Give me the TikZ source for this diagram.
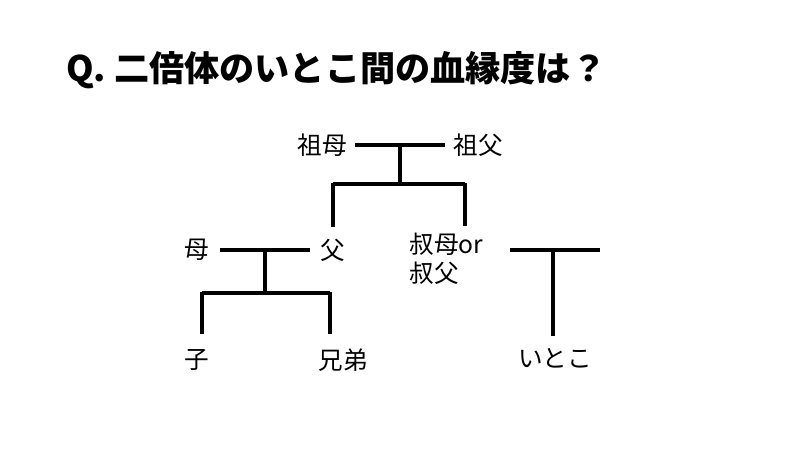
\documentclass[tikz,border=0pt]{standalone}
\usepackage{fontspec}
\setmainfont{Noto Sans CJK JP}
\usetikzlibrary{positioning}
\tikzset{
  member/.style={font=\fontsize{21}{24}\selectfont, inner sep=1pt},
  bond/.style={line width=2.6pt}
}
\begin{document}
\begin{tikzpicture}[x=0.03cm,y=-0.03cm]
\useasboundingbox (0,0) rectangle (800,450);
\node[anchor=west,font=\fontsize{30}{34}\bfseries\selectfont] (title) at (62,70) {Q. 二倍体のいとこ間の血縁度は？};

%%%grandparents
\node[member] (gm) at (322,145) {祖母};
\node[member] (gf) at (478,145) {祖父};
\coordinate (gl) at (355,145);
\coordinate (gr) at (445,145);
\draw[bond] (gl) -- (gr);
\coordinate (g1) at (400,145);
\coordinate (g2) at (400,184);
\draw[bond] (g1) -- (g2);
\draw[bond] (333,184) -- (465,184);

%%%parents
\node[member] (m) at (197,250) {母};
\node[member] (f) at (333,250) {父};
\node[member,anchor=north west,align=left] (au) at (408,232) {叔母or\\叔父};
\draw[bond] (333,182.7) -- (333,227);
\draw[bond] (465,182.7) -- (465,226);
\draw[bond] (220,250) -- (310,250);
\draw[bond] (265,250) -- (265,293);
\draw[bond] (202,293) -- (330,293);
\draw[bond] (510,250) -- (600,250);
\draw[bond] (553,250) -- (553,336);

%%%children
\node[member] (c) at (197,360) {子};
\node[member] (s) at (343,360) {兄弟};
\node[member] (cz) at (555,358) {いとこ};
\draw[bond] (202,291.7) -- (202,334);
\draw[bond] (330,291.7) -- (330,334);
\end{tikzpicture}
\end{document}
